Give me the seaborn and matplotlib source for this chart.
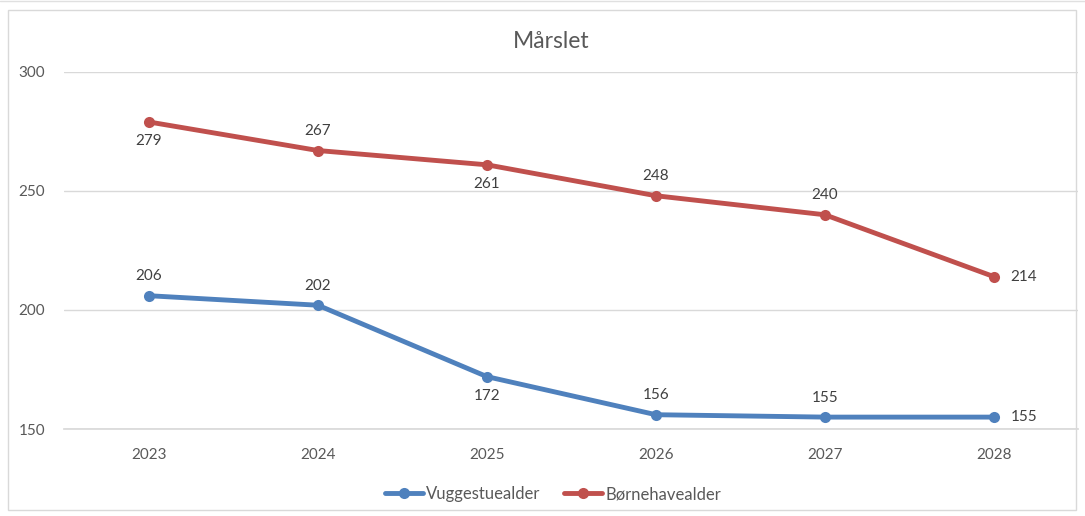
import matplotlib
matplotlib.use('Agg')
import matplotlib.pyplot as plt
import seaborn as sns
import pandas as pd
from matplotlib.patches import Rectangle
from matplotlib.lines import Line2D

years = ['2023', '2024', '2025', '2026', '2027', '2028']
vuggestue = [206, 202, 172, 156, 155, 155]
boernehave = [279, 267, 261, 248, 240, 214]
series_names = ['Vuggestuealder', 'Børnehavealder']

sns.set_theme(style="white")
plt.rcParams['font.family'] = ['Lato', 'DejaVu Sans']

df = pd.DataFrame({
    'year': years * 2,
    'value': vuggestue + boernehave,
    'series': [series_names[0]] * len(years) + [series_names[1]] * len(years),
})

blue = '#4F81BD'
red = '#C0504D'
text_col = '#595959'

fig = plt.figure(figsize=(10.85, 5.16), dpi=100)
ax = fig.add_axes([0.0594, 0.1686, 0.9346, 0.6919])

sns.lineplot(data=df, x='year', y='value', hue='series', palette=[blue, red],
             marker='o', markersize=8, markeredgewidth=0, linewidth=3.5,
             sort=False, ax=ax)

ax.set_xlim(-0.5, len(years) - 0.5)
ax.set_ylim(150, 300)
ax.set_yticks([150, 200, 250, 300])
ax.yaxis.grid(True, color='#D9D9D9', linewidth=1)
ax.set_axisbelow(True)
for s in ['left', 'right', 'top']:
    ax.spines[s].set_visible(False)
ax.spines['bottom'].set_color('#D9D9D9')
ax.tick_params(axis='both', length=0, labelsize=11, colors=text_col)
ax.tick_params(axis='x', pad=14)
ax.tick_params(axis='y', pad=14)
ax.set_xlabel('')
ax.set_ylabel('')
fig.text(551 / 1085, 1 - 42 / 516, 'Mårslet', fontsize=16.5, color=text_col,
         ha='center', va='center')

# data labels: position per point (above / below / right)
blue_pos = ['a', 'a', 'b', 'a', 'a', 'r']
red_pos = ['b', 'a', 'b', 'a', 'a', 'r']
for vals, pos in [(vuggestue, blue_pos), (boernehave, red_pos)]:
    for i, (v, p) in enumerate(zip(vals, pos)):
        if p == 'a':
            ax.annotate(str(v), (i, v), xytext=(0, 9), textcoords='offset points',
                        ha='center', va='bottom', fontsize=11, color='#404040')
        elif p == 'b':
            ax.annotate(str(v), (i, v), xytext=(0, -9), textcoords='offset points',
                        ha='center', va='top', fontsize=11, color='#404040')
        else:
            ax.annotate(str(v), (i, v), xytext=(12, 0), textcoords='offset points',
                        ha='left', va='center', fontsize=11, color='#404040')

handles, labels = ax.get_legend_handles_labels()
ax.get_legend().remove()
fig.legend(handles, labels, loc='center', bbox_to_anchor=(553 / 1085, 1 - 494 / 516),
           ncol=2, frameon=False, fontsize=12, labelcolor=text_col,
           handlelength=2.3, columnspacing=1.4, handletextpad=0.2)

# chart frame
fig.patches.append(Rectangle((8 / 1085, 6 / 516), 1068 / 1085, 500 / 516,
                             transform=fig.transFigure, fill=False,
                             edgecolor='#D9D9D9', linewidth=1))
fig.lines.append(Line2D([0, 1], [1 - 1 / 516, 1 - 1 / 516], transform=fig.transFigure,
                        color='#E0E0E0', linewidth=1))

plt.savefig('out.png', dpi=100)
plt.close()
